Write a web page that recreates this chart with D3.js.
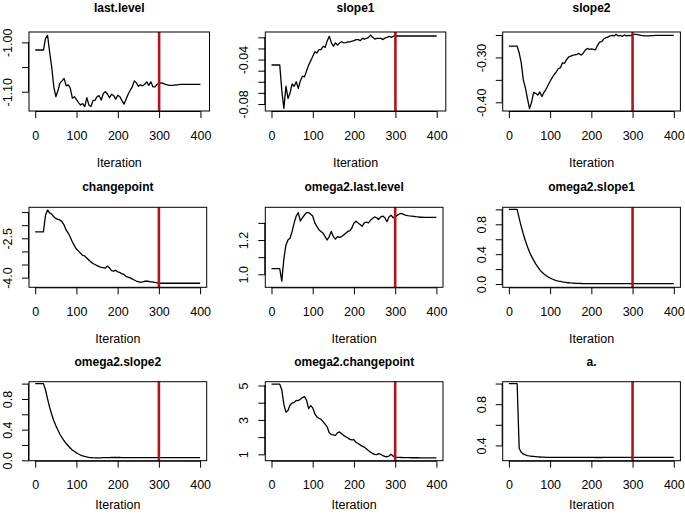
<!DOCTYPE html>
<html><head><meta charset="utf-8">
<script src="https://cdn.jsdelivr.net/npm/d3@7/dist/d3.min.js"></script>
<style>body{margin:0;background:#fff}svg{display:block}text{font-family:"Liberation Sans",Arial,Helvetica,sans-serif}</style>
</head><body><svg id="chart" width="685" height="516"></svg>
<script>
// ---------- data ----------
const iterations = [0,5,10,15,20,25,30,35,40,45,50,55,60,65,70,75,80,85,90,95,
  100,105,110,115,120,125,130,135,140,145,150,155,160,165,170,175,180,185,190,195,
  200,205,210,215,220,225,230,235,240,245,250,255,260,265,270,275,280,285,290,295,
  300,305,310,315,320,325,330,335,340,345,350,355,360,365,370,375,380,385,390,395,400];

const panelTitles = ["last.level","slope1","slope2","changepoint","omega2.last.level",
  "omega2.slope1","omega2.slope2","omega2.changepoint","a."];

const lastLevel = [-1.0155,-1.0155,-1.0155,-1.0155,-1.0155,-0.992,-0.986,-1.020,-1.050,-1.090,
  -1.110,-1.098,-1.082,-1.078,-1.073,-1.088,-1.086,-1.093,-1.113,-1.110,
  -1.116,-1.122,-1.127,-1.124,-1.130,-1.112,-1.127,-1.130,-1.118,-1.117,
  -1.110,-1.108,-1.117,-1.103,-1.100,-1.105,-1.112,-1.105,-1.108,-1.115,
  -1.107,-1.110,-1.118,-1.125,-1.115,-1.105,-1.097,-1.090,-1.078,-1.082,
  -1.089,-1.086,-1.088,-1.085,-1.080,-1.087,-1.080,-1.090,-1.090,-1.085,
  -1.083,-1.082,-1.083,-1.085,-1.086,-1.087,-1.087,-1.087,-1.086,-1.086,
  -1.085,-1.085,-1.085,-1.085,-1.085,-1.085,-1.085,-1.085,-1.085,-1.085,-1.085];

const slope1 = [-0.0449,-0.0449,-0.0449,-0.0449,-0.0449,-0.068,-0.0839,-0.064,-0.075,-0.070,
  -0.062,-0.064,-0.060,-0.066,-0.059,-0.055,-0.0555,-0.050,-0.045,-0.041,
  -0.037,-0.033,-0.034,-0.031,-0.031,-0.028,-0.029,-0.023,-0.019,-0.025,
  -0.028,-0.025,-0.027,-0.025,-0.024,-0.025,-0.0248,-0.024,-0.024,-0.0235,
  -0.023,-0.022,-0.022,-0.023,-0.021,-0.0215,-0.021,-0.020,-0.018,-0.020,
  -0.0215,-0.021,-0.021,-0.021,-0.022,-0.0205,-0.020,-0.019,-0.020,-0.019,
  -0.0188,-0.0188,-0.0188,-0.0188,-0.0188,-0.0188,-0.0188,-0.0188,-0.0188,-0.0188,
  -0.0188,-0.0188,-0.0188,-0.0188,-0.0188,-0.0188,-0.0188,-0.0188,-0.0188,-0.0188,-0.0188];

const slope2 = [-0.2746,-0.2746,-0.2746,-0.2746,-0.2746,-0.290,-0.312,-0.350,-0.368,-0.391,
  -0.414,-0.400,-0.378,-0.380,-0.384,-0.377,-0.387,-0.378,-0.371,-0.362,
  -0.353,-0.345,-0.338,-0.332,-0.325,-0.323,-0.312,-0.313,-0.305,-0.299,
  -0.297,-0.2955,-0.294,-0.293,-0.291,-0.2946,-0.291,-0.284,-0.280,-0.282,
  -0.281,-0.282,-0.283,-0.273,-0.266,-0.265,-0.259,-0.256,-0.255,-0.252,
  -0.251,-0.252,-0.2485,-0.252,-0.251,-0.253,-0.250,-0.252,-0.251,-0.2515,
  -0.249,-0.2485,-0.2485,-0.2495,-0.251,-0.2515,-0.252,-0.252,-0.252,-0.2515,
  -0.2515,-0.251,-0.251,-0.251,-0.251,-0.2508,-0.2508,-0.2507,-0.2507,-0.2507,-0.2507];

const changepoint = [-2.258,-2.258,-2.258,-2.258,-2.258,-1.62,-1.42,-1.53,-1.58,-1.674,
  -1.74,-1.78,-1.80,-1.87,-1.99,-2.18,-2.30,-2.45,-2.63,-2.78,
  -2.91,-2.99,-3.07,-3.15,-3.17,-3.25,-3.33,-3.40,-3.46,-3.50,
  -3.54,-3.58,-3.61,-3.62,-3.64,-3.56,-3.62,-3.73,-3.75,-3.72,
  -3.78,-3.80,-3.85,-3.88,-3.95,-3.98,-4.01,-4.05,-4.09,-4.13,
  -4.15,-4.18,-4.165,-4.14,-4.135,-4.14,-4.16,-4.16,-4.18,-4.19,
  -4.216,-4.216,-4.216,-4.216,-4.216,-4.216,-4.216,-4.216,-4.216,-4.216,
  -4.216,-4.216,-4.216,-4.216,-4.216,-4.216,-4.216,-4.216,-4.216,-4.216,-4.216];

const omega2LastLevel = [1.033,1.033,1.033,1.033,1.033,0.96,1.09,1.17,1.20,1.21,
  1.25,1.30,1.34,1.36,1.31,1.33,1.346,1.36,1.36,1.35,
  1.34,1.30,1.28,1.26,1.25,1.24,1.22,1.20,1.22,1.25,
  1.22,1.205,1.22,1.215,1.22,1.23,1.24,1.25,1.255,1.27,
  1.30,1.31,1.30,1.29,1.28,1.30,1.305,1.30,1.315,1.325,
  1.335,1.33,1.32,1.335,1.34,1.33,1.307,1.335,1.345,1.33,
  1.336,1.344,1.352,1.355,1.350,1.346,1.343,1.341,1.340,1.338,
  1.336,1.335,1.333,1.333,1.332,1.332,1.332,1.332,1.332,1.332,1.332];

const omega2Slope1 = [1.0,1.0,1.0,1.0,1.0,0.88,0.77,0.67,0.58,0.50,
  0.43,0.37,0.32,0.27,0.23,0.19,0.16,0.135,0.113,0.095,
  0.080,0.067,0.056,0.047,0.040,0.034,0.028,0.024,0.020,0.017,
  0.014,0.012,0.010,0.009,0.008,0.007,0.006,0.006,0.005,0.005,
  0.005,0.005,0.005,0.005,0.005,0.005,0.005,0.005,0.005,0.005,
  0.005,0.005,0.005,0.005,0.005,0.005,0.005,0.005,0.005,0.005,
  0.004,0.004,0.004,0.004,0.004,0.004,0.004,0.004,0.004,0.004,
  0.004,0.004,0.004,0.004,0.004,0.004,0.004,0.004,0.004,0.004,0.004];

const omega2Slope2 = [1.0,1.0,1.0,1.0,1.0,0.92,0.80,0.69,0.60,0.52,
  0.455,0.395,0.34,0.295,0.255,0.22,0.19,0.16,0.135,0.115,
  0.097,0.082,0.069,0.058,0.050,0.044,0.039,0.036,0.034,0.033,
  0.033,0.033,0.033,0.034,0.034,0.035,0.036,0.037,0.037,0.037,
  0.037,0.037,0.036,0.036,0.036,0.036,0.036,0.036,0.036,0.036,
  0.036,0.036,0.036,0.036,0.036,0.036,0.036,0.036,0.036,0.036,
  0.036,0.036,0.036,0.036,0.036,0.036,0.036,0.036,0.036,0.036,
  0.036,0.036,0.036,0.036,0.036,0.036,0.036,0.036,0.036,0.036,0.036];

const omega2Changepoint = [5.077,5.077,5.077,5.077,5.077,4.75,3.90,3.45,3.55,3.85,
  3.98,4.02,4.13,4.12,4.20,4.30,4.35,4.15,3.65,3.83,
  3.70,3.36,3.18,3.10,3.03,2.90,2.75,2.60,2.25,2.15,
  2.13,2.10,2.25,2.30,2.20,2.10,2.02,1.96,1.87,1.84,
  1.86,1.70,1.63,1.55,1.48,1.42,1.32,1.22,1.13,1.06,
  1.00,0.98,1.04,1.00,0.92,0.88,0.86,0.90,1.00,0.90,
  0.84,0.827,0.82,0.815,0.81,0.81,0.805,0.805,0.80,0.80,
  0.80,0.80,0.795,0.795,0.795,0.79,0.79,0.79,0.79,0.79,0.79];

const aDot = [1.0,1.0,1.0,1.0,1.0,0.37,0.335,0.318,0.308,0.302,
  0.298,0.295,0.293,0.291,0.289,0.288,0.287,0.286,0.285,0.285,
  0.284,0.284,0.284,0.284,0.284,0.284,0.284,0.284,0.284,0.284,
  0.284,0.284,0.284,0.284,0.284,0.284,0.284,0.284,0.284,0.284,
  0.284,0.284,0.283,0.283,0.283,0.283,0.284,0.284,0.284,0.284,
  0.284,0.284,0.284,0.284,0.284,0.284,0.284,0.284,0.284,0.284,
  0.284,0.284,0.284,0.284,0.284,0.284,0.284,0.284,0.284,0.284,
  0.284,0.284,0.284,0.284,0.284,0.284,0.284,0.284,0.284,0.284,0.284];

const seriesValues = [lastLevel, slope1, slope2, changepoint, omega2LastLevel,
  omega2Slope1, omega2Slope2, omega2Changepoint, aDot];

const xTickValues = [0,100,200,300,400];
const markerIteration = 300;
const xAxisTitle = "Iteration";

// y tick positions and which of them carry a label
const yTickValues = [
  [-1.10,-1.05,-1.00],
  [-0.08,-0.07,-0.06,-0.05,-0.04,-0.03,-0.02],
  [-0.40,-0.35,-0.30,-0.25],
  [-4.0,-3.5,-3.0,-2.5,-2.0,-1.5],
  [1.0,1.1,1.2,1.3],
  [0.0,0.2,0.4,0.6,0.8,1.0],
  [0.0,0.2,0.4,0.6,0.8,1.0],
  [1,2,3,4,5],
  [0.4,0.6,0.8,1.0]
];
const yTickLabels = [
  ["-1.10","","-1.00"],
  ["-0.08","","","","-0.04","",""],
  ["-0.40","","-0.30",""],
  ["-4.0","","","-2.5","",""],
  ["1.0","","1.2",""],
  ["0.0","","0.4","","0.8",""],
  ["0.0","","0.4","","0.8",""],
  ["1","","3","","5"],
  ["0.4","","0.8",""]
];
const yDomains = [
  [-1.139,-0.979],[-0.0863,-0.0152],[-0.4194,-0.2433],
  [-4.370,-1.317],[0.924,1.391],[-0.044,1.028],
  [-0.005,1.025],[0.63,5.22],[0.252,1.018]
];

// ---------- layout ----------
const colLeft = [29, 265.3, 502.7];
const rowTop = [32, 207.3, 381.7];
const rowH = [79, 80, 79];
const titleY = [12, 191, 366];
const axisTitleGap = [56, 56, 48];

const svg = d3.select("#chart");

panelTitles.forEach((title, i) => {
  const r = Math.floor(i/3), c = i % 3;
  const wide = (i < 2);
  const w = wide ? 180.5 : 177.7;
  const h = rowH[r];
  const x = d3.scaleLinear().domain([-15, wide ? 422 : 416]).range([0, w]);
  const y = d3.scaleLinear().domain(yDomains[i]).range([h, 0]);
  const g = svg.append("g").attr("transform", `translate(${colLeft[c]},${rowTop[r]})`);

  const pts = iterations.map((it, k) => [it, seriesValues[i][k]]);
  g.append("path").datum(pts)
    .attr("d", d3.line().x(d => x(d[0])).y(d => y(d[1])))
    .attr("fill","none").attr("stroke","#000").attr("stroke-width",1.3)
    .attr("stroke-linejoin","round");

  g.append("line")
    .attr("x1", x(markerIteration)).attr("x2", x(markerIteration))
    .attr("y1", 0).attr("y2", h)
    .attr("stroke","#b3141c").attr("stroke-width",2.6);

  g.append("rect").attr("x",0).attr("y",0).attr("width",w).attr("height",h)
    .attr("fill","none").attr("stroke","#000").attr("stroke-width",1);

  const xa = g.append("g").attr("transform",`translate(0,${h})`)
    .call(d3.axisBottom(x).tickValues(xTickValues).tickSize(7).tickSizeOuter(0).tickFormat(d3.format("d")));
  xa.select(".domain").attr("d", `M${x(0)},0.5H${x(400)}`);
  xa.selectAll("text").attr("y", 28.5).attr("dy", null)
    .style("font-size","12.5px").attr("fill","#000");

  const labs = yTickLabels[i];
  const ya = g.append("g")
    .call(d3.axisLeft(y).tickValues(yTickValues[i]).tickSize(7).tickSizeOuter(0)
      .tickFormat((d, k) => labs[k]));
  const yv = yTickValues[i];
  ya.select(".domain").attr("d", `M-0.5,${y(yv[0])}V${y(yv[yv.length-1])}`);
  ya.selectAll("text").attr("x", 0).attr("y", -17).attr("dy", null)
    .attr("transform","rotate(-90)").attr("text-anchor","middle")
    .style("font-size","12.5px").attr("fill","#000");

  svg.append("text").attr("x", colLeft[c] + w/2).attr("y", titleY[r])
    .attr("text-anchor","middle").style("font-weight","bold").style("font-size","12px")
    .text(title);

  svg.append("text").attr("x", colLeft[c] + w/2).attr("y", rowTop[r] + h + axisTitleGap[r])
    .attr("text-anchor","middle").style("font-size","12.5px")
    .text(xAxisTitle);
});
</script>
</body></html>
